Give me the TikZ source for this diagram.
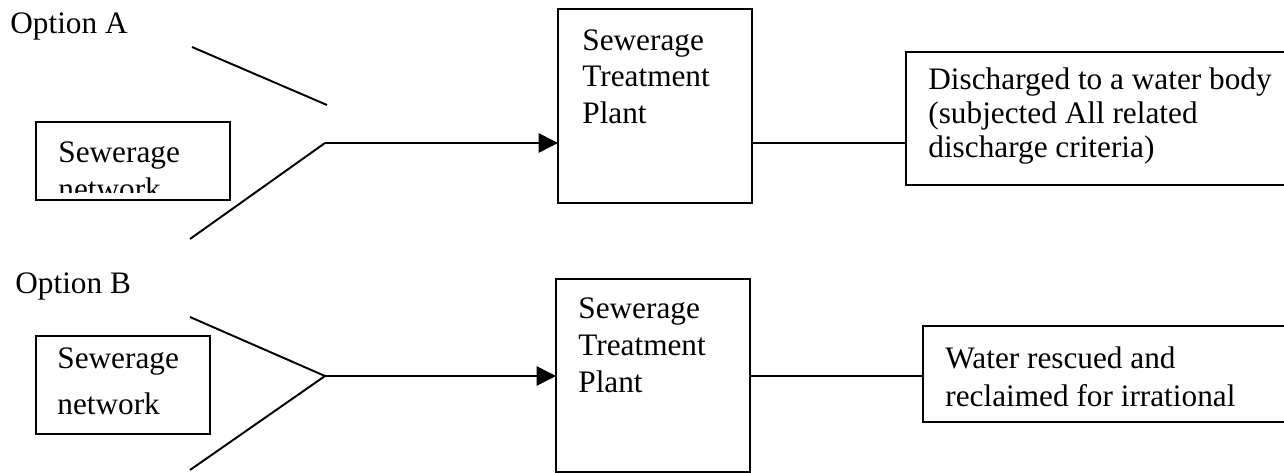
\documentclass[tikz,border=0pt]{standalone}
\usepackage{fontspec}
\setmainfont{Liberation Serif}
\usetikzlibrary{arrows.meta,calc,positioning}

\begin{document}
\begin{tikzpicture}[x=0.02cm, y=-0.02cm, >={Triangle[length=11pt,width=11pt]},
  box/.style={draw, line width=0.8pt, inner sep=0pt, outer sep=0pt},
  txt/.style={anchor=north west, inner sep=0pt, align=left, font=\fontsize{17.8}{19.6}\selectfont},
  feed/.style={line width=1.1pt},
  flow/.style={line width=0.8pt}]
\clip (0,0) rectangle (1284,473);
% Option A
\node[txt] (opta) at (10,12) {Option A};
\node[box, minimum width=3.88cm, minimum height=1.56cm] (neta) at (133,161) {};
\begin{scope}
\clip (36,122) rectangle (230,192);
\node[txt, font=\fontsize{17.8}{21.2}\selectfont] (netatxt) at ($(neta.north west)+(22,19)$) {Sewerage\\network};
\end{scope}
\node[box, minimum width=3.88cm, minimum height=3.88cm] (stpa) at (655,106) {};
\node[txt, font=\fontsize{17.8}{20.8}\selectfont] (stpatxt) at ($(stpa.north west)+(24,20)$) {Sewerage\\Treatment\\Plant};
\node[box, minimum width=7.88cm, minimum height=2.66cm] (disa) at (1103,118.5) {};
\node[txt] (disatxt) at ($(disa.north west)+(22,15)$) {Discharged to a water body\\(subjected All related\\discharge criteria)};
\coordinate (ja) at (325,143);
\coordinate (topa) at (192,47);
\coordinate (topa2) at (327,105);
\coordinate (bota) at (190,239);
\draw[feed] (topa) -- (topa2);
\draw[feed] (bota) -- (ja);
\draw[flow, ->] (ja) -- (ja -| stpa.west);
\draw[flow] (ja -| stpa.east) -- (ja -| disa.west);
% Option B
\node[txt] (optb) at (15,272) {Option B};
\node[box, minimum width=3.48cm, minimum height=1.96cm] (netb) at (123,385) {};
\node[txt, font=\fontsize{17.8}{26.2}\selectfont] (netbtxt) at ($(netb.north west)+(21,11)$) {Sewerage\\network};
\node[box, minimum width=3.88cm, minimum height=3.86cm] (stpb) at (653,375.5) {};
\node[txt, font=\fontsize{17.8}{21.3}\selectfont] (stpbtxt) at ($(stpb.north west)+(22,18)$) {Sewerage\\Treatment\\Plant};
\node[box, minimum width=7.54cm, minimum height=1.92cm] (watb) at (1111.5,374) {};
\node[txt, font=\fontsize{17.8}{21.6}\selectfont] (watbtxt) at ($(watb.north west)+(22,20)$) {Water rescued and\\reclaimed for irrational};
\coordinate (jb) at (325,376);
\coordinate (topb) at (190,317);
\coordinate (botb) at (190,470);
\draw[feed] (topb) -- (jb) -- (botb);
\draw[flow, ->] (jb) -- (jb -| stpb.west);
\draw[flow] (jb -| stpb.east) -- (jb -| watb.west);
\end{tikzpicture}
\end{document}
